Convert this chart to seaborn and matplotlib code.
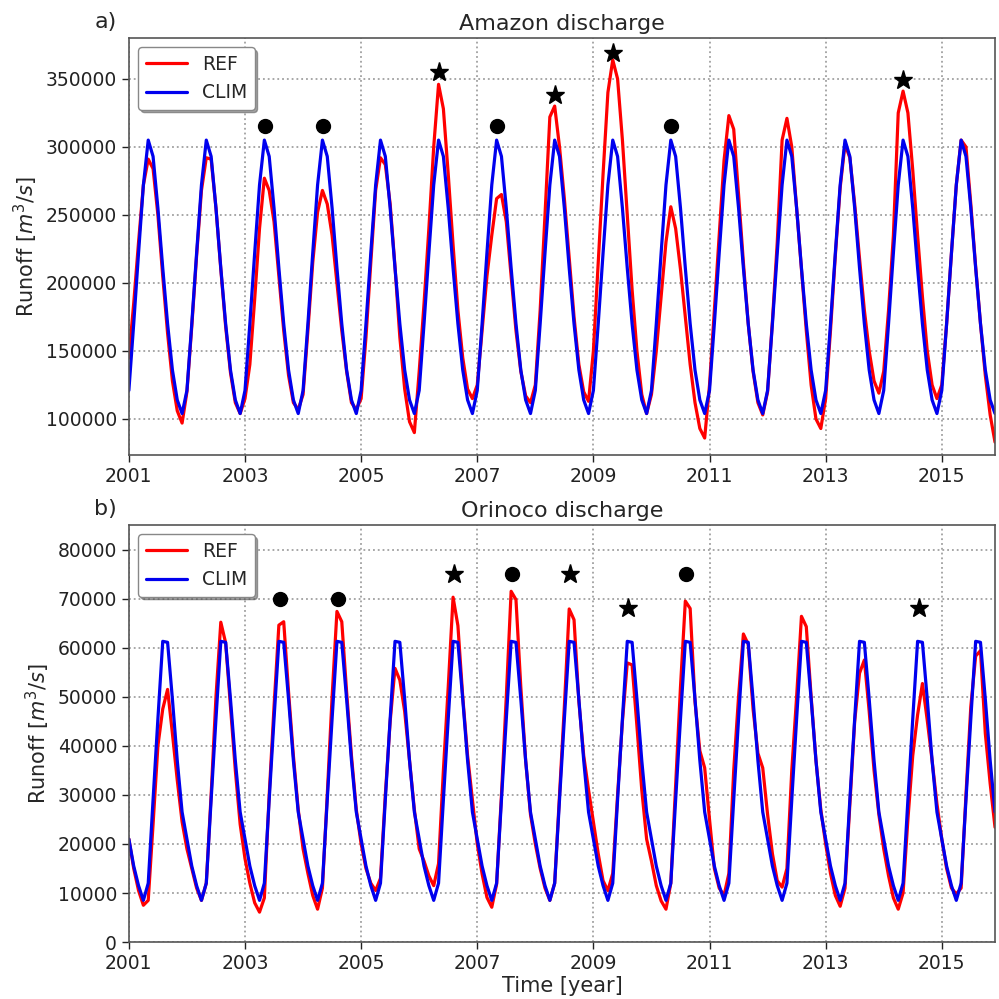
import numpy as np
import pandas as pd
import matplotlib
matplotlib.use("Agg")
import matplotlib.pyplot as plt
import seaborn as sns

# monthly climatology (Jan..Dec)
amazon_clim = [121000, 170000, 222000, 272000, 305000, 293000,
               255000, 211000, 170000, 136000, 114000, 104000]
orinoco_clim = [21000, 15500, 11500, 8500, 12000, 29000,
                45500, 61300, 61100, 49500, 37000, 26500]

# monthly REF discharge, one row per year 2001..2015
amazon_ref = [
    [145000, 185000, 230000, 272000, 291000, 284000, 250000, 205000, 163000, 128000, 106000, 97000],
    [120000, 168000, 220000, 268000, 292000, 291000, 255000, 210000, 168000, 134000, 112000, 104000],
    [115000, 140000, 188000, 240000, 277000, 268000, 245000, 205000, 165000, 132000, 112000, 107000],
    [118000, 165000, 215000, 252000, 268000, 258000, 235000, 200000, 165000, 135000, 112000, 107000],
    [115000, 160000, 215000, 268000, 292000, 287000, 258000, 212000, 160000, 122000, 98000, 90000],
    [135000, 185000, 240000, 300000, 346000, 328000, 280000, 228000, 180000, 145000, 122000, 115000],
    [125000, 165000, 205000, 235000, 262000, 265000, 245000, 205000, 165000, 135000, 117000, 112000],
    [125000, 180000, 250000, 322000, 330000, 300000, 262000, 218000, 175000, 140000, 120000, 113000],
    [150000, 215000, 280000, 340000, 364000, 350000, 305000, 250000, 195000, 150000, 118000, 104000],
    [118000, 150000, 190000, 230000, 256000, 240000, 210000, 175000, 140000, 112000, 93000, 86000],
    [125000, 180000, 235000, 290000, 323000, 313000, 265000, 215000, 170000, 135000, 112000, 103000],
    [120000, 172000, 230000, 305000, 321000, 300000, 255000, 210000, 165000, 125000, 100000, 93000],
    [115000, 165000, 220000, 270000, 302000, 292000, 258000, 218000, 180000, 150000, 128000, 119000],
    [135000, 180000, 235000, 325000, 341000, 325000, 283000, 235000, 190000, 150000, 125000, 115000],
    [125000, 170000, 222000, 272000, 305000, 300000, 258000, 212000, 170000, 132000, 103000, 83000],
]
orinoco_ref = [
    [21000, 15000, 10500, 7500, 8500, 24000, 40000, 47500, 51500, 42500, 33000, 24500],
    [19000, 15000, 11000, 8500, 12000, 30000, 50000, 65200, 61000, 48000, 35000, 24000],
    [17000, 12000, 8000, 6100, 9000, 30000, 48000, 64600, 65300, 51000, 38000, 27000],
    [19000, 14000, 9500, 6700, 11000, 30000, 50000, 67400, 65300, 51000, 38000, 27000],
    [20000, 15000, 12000, 10500, 13000, 30000, 45000, 55800, 53400, 47000, 37000, 27000],
    [19000, 16500, 13500, 11500, 16000, 35000, 52000, 70300, 64500, 50000, 38000, 29000],
    [20000, 13900, 9100, 7100, 11800, 30000, 50000, 71500, 69800, 52000, 37000, 26000],
    [20000, 15000, 11000, 8500, 12000, 30000, 48000, 67900, 65700, 49000, 38000, 31000],
    [24500, 18000, 12500, 10500, 14000, 30000, 45000, 56900, 56500, 44000, 31000, 21000],
    [16500, 11500, 8400, 6700, 12000, 32000, 52000, 69500, 68000, 49000, 39000, 35500],
    [25000, 15000, 11000, 9500, 14000, 35000, 50000, 62800, 60700, 47500, 38500, 35500],
    [26000, 18000, 12500, 11200, 15000, 35000, 50000, 66400, 64300, 50000, 37000, 27000],
    [20000, 14000, 9500, 7300, 11000, 28000, 45000, 54800, 57500, 47000, 35000, 26000],
    [19000, 13500, 9000, 6700, 10000, 25000, 38000, 46300, 52700, 45200, 37000, 28200],
    [21000, 15000, 11000, 9800, 11000, 30000, 48000, 58300, 59400, 42500, 32300, 23400],
]

years = list(range(2001, 2016))

# flood (star) / drought (dot) events and the level the symbol is drawn at
amazon_events = ["o", "o", "*", "o", "*", "*", "o", "*"]
amazon_event_years = [2003, 2004, 2006, 2007, 2008, 2009, 2010, 2014]
amazon_event_level = [315000, 315000, 355000, 315000, 338000, 369000, 315000, 349000]
orinoco_events = ["o", "o", "*", "o", "*", "*", "o", "*"]
orinoco_event_years = [2003, 2004, 2006, 2007, 2008, 2009, 2010, 2014]
orinoco_event_level = [70000, 70000, 75000, 75000, 75000, 68000, 75000, 68000]

time = 2001 + np.arange(len(years) * 12) / 12.0


def make_df(ref, clim):
    ref_flat = np.array(ref, dtype=float).ravel()
    clim_flat = np.tile(np.array(clim, dtype=float), len(years))
    return pd.DataFrame({
        "time": np.concatenate([time, time]),
        "runoff": np.concatenate([ref_flat, clim_flat]),
        "run": ["REF"] * len(time) + ["CLIM"] * len(time),
    })


sns.set_style("ticks")
plt.rcParams["font.family"] = ["DejaVu Sans"]

fig = plt.figure(figsize=(9.99, 9.99), dpi=100)
ax1 = fig.add_axes([0.129, 0.5445, 0.867, 0.4174])
ax2 = fig.add_axes([0.129, 0.057, 0.867, 0.4174])

panels = [
    (ax1, amazon_ref, amazon_clim, amazon_events, amazon_event_years, amazon_event_level,
     4.05, "Amazon discharge", "a)", (73500, 380000), np.arange(100000, 350001, 50000)),
    (ax2, orinoco_ref, orinoco_clim, orinoco_events, orinoco_event_years, orinoco_event_level,
     7.2, "Orinoco discharge", "b)", (0, 85000), np.arange(0, 80001, 10000)),
]

for ax, ref, clim, ev, ev_years, ev_level, ev_month, title, tag, ylim, yt in panels:
    df = make_df(ref, clim)
    sns.lineplot(data=df, x="time", y="runoff", hue="run",
                 palette={"REF": "#ff0000", "CLIM": "#0000ee"},
                 linewidth=2.3, ax=ax)
    for m, yr, lev in zip(ev, ev_years, ev_level):
        ax.plot(yr + ev_month / 12.0, lev, marker=m, color="black",
                markersize=14 if m == "*" else 10, linestyle="none")
    ax.set_xlim(time[0], time[-1])
    ax.set_ylim(*ylim)
    ax.set_yticks(yt)
    ax.set_xticks(range(2001, 2016, 2))
    ax.grid(True, linestyle=":", color="#a0a0a0", linewidth=1.3)
    ax.tick_params(labelsize=13.5, colors="#222222", length=5, width=1)
    for s in ax.spines.values():
        s.set_color("#555555")
        s.set_linewidth(1.2)
    ax.set_ylabel("Runoff [$m^3/s$]", fontsize=15)
    ax.set_xlabel("")
    ax.set_title(title, fontsize=16, pad=6)
    ax.text(-0.04, 1.015, tag, transform=ax.transAxes, fontsize=16, va="bottom", ha="left")
    ax.legend(loc="upper left", fontsize=13.5, shadow=True, fancybox=True,
              framealpha=1, edgecolor="#888888", handlelength=2.2)

ax2.set_xlabel("Time [year]", fontsize=15, labelpad=2)

fig.savefig("out.png", dpi=100)
